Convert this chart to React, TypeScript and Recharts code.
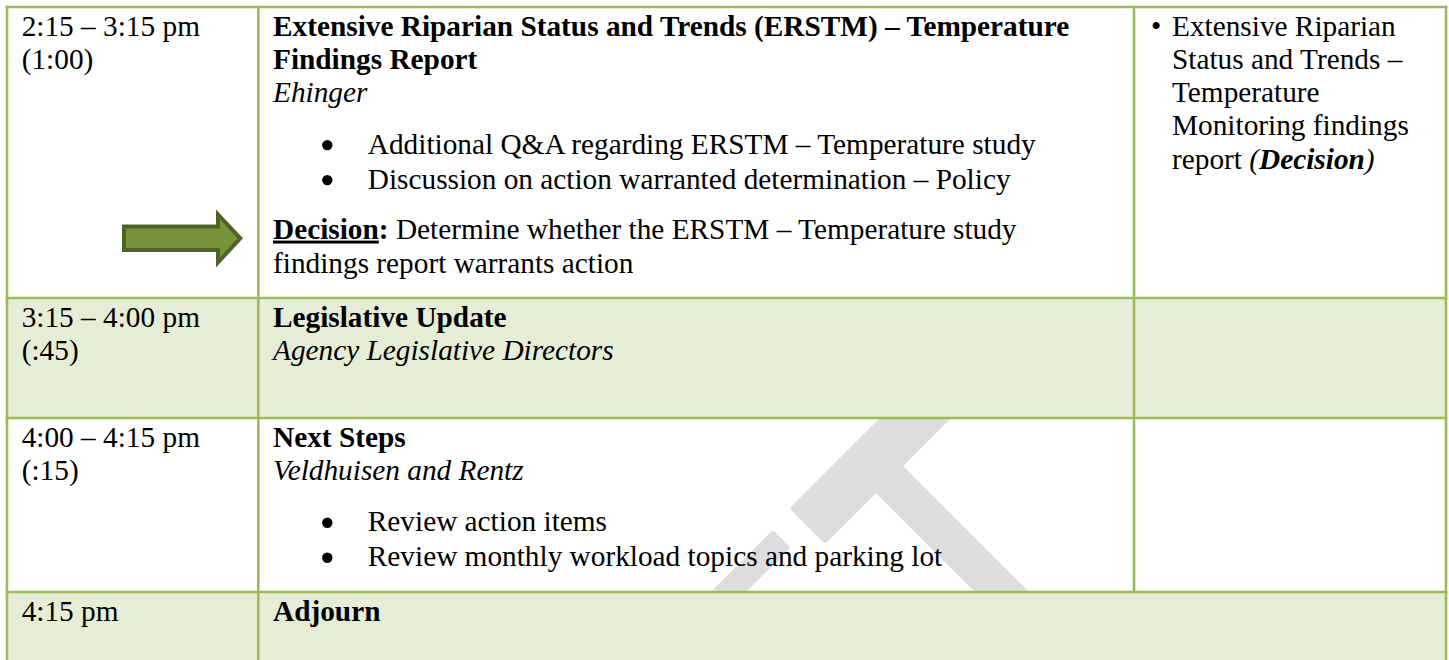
import React from 'react';
import { ComposedChart, XAxis, YAxis, ReferenceArea, ReferenceLine } from 'recharts';

// ---------- content ----------
const times: string[][] = [
  ['2:15 – 3:15 pm', '(1:00)'],
  ['3:15 – 4:00 pm', '(:45)'],
  ['4:00 – 4:15 pm', '(:15)'],
  ['4:15 pm'],
];
const titles: string[][] = [
  ['Extensive Riparian Status and Trends (ERSTM) – Temperature', 'Findings Report'],
  ['Legislative Update'],
  ['Next Steps'],
  ['Adjourn'],
];
const presenters: string[] = ['Ehinger', 'Agency Legislative Directors', 'Veldhuisen and Rentz', ''];
const bullets: string[][] = [
  ['Additional Q&A regarding ERSTM – Temperature study', 'Discussion on action warranted determination – Policy'],
  [],
  ['Review action items', 'Review monthly workload topics and parking lot'],
  [],
];
const decisionLabel = 'Decision';
const decisionLines: string[] = [' Determine whether the ERSTM – Temperature study', 'findings report warrants action'];
const materialLines: string[] = ['Extensive Riparian', 'Status and Trends –', 'Temperature', 'Monitoring findings', 'report '];
const materialDecision = 'Decision';

// ---------- layout ----------
const CHART_W = 1449;
const CHART_H = 660;
const colEdges = [7, 258.3, 1134, 1446];
const rowEdges = [7, 298, 418, 592, 660];
const rowShaded = [false, true, false, true];

const FONT = '"Liberation Serif", "Times New Roman", Times, serif';
const FS = 29.3;
const LH = 33.3;
const FIRST = 28.5;
const BORDER = '#9BBB59';
const SHADE = '#E5EDD6';
const WATERMARK = '#DDDDDD';

// watermark strokes given in diagonal coordinates (s = x + y, t = x - y)
const watermarkStrokes = [
  { s0: 1302, s1: 1365, t0: 285, t1: 560 },
  { s0: 1360, s1: 1760, t0: 387, t1: 433 },
  { s0: 1307, s1: 1334, t0: 40, t1: 239 },
];
const st = (s: number, t: number) => `${(s + t) / 2},${(s - t) / 2}`;

const txt = (
  key: string,
  x: number,
  y: number,
  content: React.ReactNode,
  weight: string = 'normal',
  style: string = 'normal',
  size: number = FS,
) => (
  <text key={key} x={x} y={y} fontFamily={FONT} fontSize={size} fill="#000" fontWeight={weight} fontStyle={style}>
    {content}
  </text>
);

function makeShape(row: number, col: number) {
  return (props: any) => {
    const { x, y, width, height } = props;
    const fill = rowShaded[row] ? SHADE : '#FFFFFF';
    const base = y + FIRST;
    const items: React.ReactNode[] = [];
    if (col === 0) {
      times[row].forEach((l, i) => items.push(txt(`t${i}`, x + 14.7, base + i * LH, l)));
      if (row === 0) {
        items.push(
          <path
            key="arrow"
            d="M124,226.5 L218,226.5 L218,214.5 L240.3,238.3 L218,262.3 L218,250 L124,250 Z"
            fill="#77933C"
            stroke="#4F6228"
            strokeWidth={4}
            strokeLinejoin="miter"
          />,
        );
      }
    } else if (col === 1) {
      const bx = x + 14.7;
      titles[row].forEach((l, i) => items.push(txt(`ti${i}`, bx, base + i * LH, l, 'bold')));
      let yy = base + titles[row].length * LH;
      if (presenters[row]) {
        items.push(txt('pr', bx, yy, presenters[row], 'normal', 'italic'));
      }
      yy += 51.5;
      bullets[row].forEach((l, i) => {
        items.push(<circle key={`bd${i}`} cx={x + 69} cy={yy + i * 35 - 8.5} r={5.2} fill="#000" />);
        items.push(txt(`b${i}`, x + 109.5, yy + i * 35, l));
      });
      if (row === 0) {
        const dy = yy + 35 + 50;
        items.push(
          <text key="dec0" x={bx} y={dy} fontFamily={FONT} fontSize={FS} fill="#000">
            <tspan fontWeight="bold" style={{ textDecoration: 'underline', textDecorationThickness: '2.5px' } as any}>
              {decisionLabel}
            </tspan>
            <tspan fontWeight="bold">:</tspan>
            <tspan>{decisionLines[0]}</tspan>
          </text>,
        );
        items.push(txt('dec1', bx, dy + 34.5, decisionLines[1]));
      }
    } else if (col === 2 && row === 0) {
      items.push(txt('mb', x + 17, base, '•'));
      materialLines.forEach((l, i) => {
        if (i < materialLines.length - 1) {
          items.push(txt(`m${i}`, x + 38, base + i * LH, l));
        } else {
          items.push(
            <text key="mlast" x={x + 38} y={base + i * LH} fontFamily={FONT} fontSize={FS} fill="#000">
              <tspan>{l}</tspan>
              <tspan fontStyle="italic">(</tspan>
              <tspan fontStyle="italic" fontWeight="bold">{materialDecision}</tspan>
              <tspan fontStyle="italic">)</tspan>
            </text>,
          );
        }
      });
    }
    const hasWatermark = row === 2 && col === 1;
    return (
      <g>
        <rect x={x} y={y} width={width} height={height} fill={fill} />
        {hasWatermark && (
          <g>
            <defs>
              <clipPath id="wm-clip">
                <rect x={x} y={y} width={width} height={height} />
              </clipPath>
            </defs>
            <g clipPath="url(#wm-clip)">
              {watermarkStrokes.map((w, i) => (
                <polygon
                  key={i}
                  points={[st(w.s0, w.t0), st(w.s1, w.t0), st(w.s1, w.t1), st(w.s0, w.t1)].join(' ')}
                  fill={WATERMARK}
                  stroke={WATERMARK}
                  strokeWidth={6}
                  strokeLinejoin="round"
                />
              ))}
            </g>
          </g>
        )}
        {items}
      </g>
    );
  };
}

const cells: { row: number; col: number; x1: number; x2: number }[] = [];
for (let r = 0; r < 4; r++) {
  if (r === 3) {
    cells.push({ row: r, col: 0, x1: colEdges[0], x2: colEdges[1] });
    cells.push({ row: r, col: 1, x1: colEdges[1], x2: colEdges[3] });
  } else {
    for (let c = 0; c < 3; c++) cells.push({ row: r, col: c, x1: colEdges[c], x2: colEdges[c + 1] });
  }
}

const hLines = [0, 1, 2, 3].map((i) => ({ y: rowEdges[i], x1: colEdges[0], x2: colEdges[3] }));
const vLines = [
  { x: colEdges[0], y1: rowEdges[0], y2: rowEdges[4] },
  { x: colEdges[1], y1: rowEdges[0], y2: rowEdges[4] },
  { x: colEdges[2], y1: rowEdges[0], y2: rowEdges[3] },
  { x: colEdges[3], y1: rowEdges[0], y2: rowEdges[4] },
];

const frame = [{ x: 0 }, { x: CHART_W }];

export default function App() {
  return (
    <div style={{ position: 'absolute', left: 0, top: 0, width: CHART_W, height: CHART_H, background: '#fff' }}>
      <ComposedChart width={CHART_W} height={CHART_H} data={frame} margin={{ top: 0, right: 0, bottom: 0, left: 0 }}>
        <XAxis dataKey="x" type="number" domain={[0, CHART_W]} hide allowDataOverflow />
        <YAxis type="number" domain={[0, CHART_H]} reversed hide allowDataOverflow />
        {cells.map((c) => (
          <ReferenceArea
            key={`c${c.row}-${c.col}`}
            x1={c.x1}
            x2={c.x2}
            y1={rowEdges[c.row]}
            y2={rowEdges[c.row + 1]}
            ifOverflow="visible"
            shape={makeShape(c.row, c.col)}
          />
        ))}
        {hLines.map((l, i) => (
          <ReferenceLine
            key={`h${i}`}
            segment={[{ x: l.x1 - 1.3, y: l.y }, { x: l.x2 + 1.3, y: l.y }]}
            stroke={BORDER}
            strokeWidth={2.6}
            ifOverflow="visible"
          />
        ))}
        {vLines.map((l, i) => (
          <ReferenceLine
            key={`v${i}`}
            segment={[{ x: l.x, y: l.y1 - 1.3 }, { x: l.x, y: l.y2 }]}
            stroke={BORDER}
            strokeWidth={2.6}
            ifOverflow="visible"
          />
        ))}
      </ComposedChart>
    </div>
  );
}
